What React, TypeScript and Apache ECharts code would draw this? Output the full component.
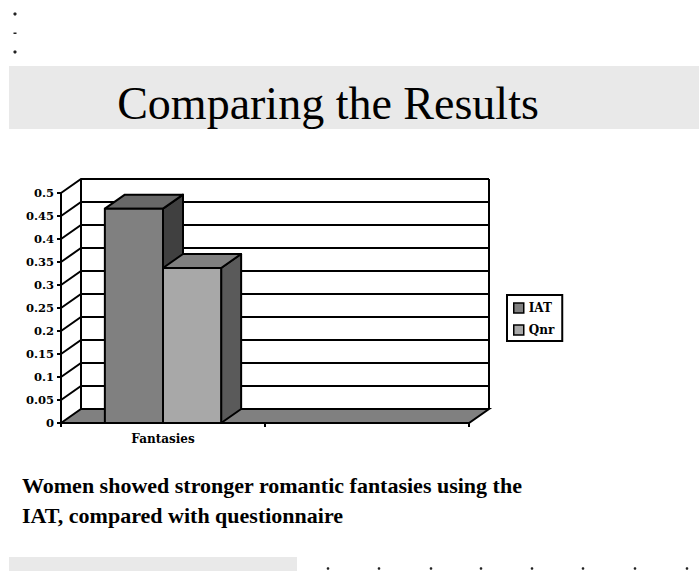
import React, { useEffect, useRef } from "react";
import * as echarts from "echarts";

const categories = ["Fantasies", ""];
const seriesNames = ["IAT", "Qnr"];
const iatValues = [0.466];
const qnrValues = [0.337];
const yTicks = [0, 0.05, 0.1, 0.15, 0.2, 0.25, 0.3, 0.35, 0.4, 0.45, 0.5];
const titleText = "Comparing the Results";
const captionLines = [
  "Women showed stronger romantic fantasies using the",
  "IAT, compared with questionnaire",
];

const DX = 20;
const DY = -14;
const LABEL_FONT = "DejaVu Serif";
const SERIF = "Liberation Serif";

const barColors = [
  { front: "#808080", top: "#686868", side: "#404040" },
  { front: "#a8a8a8", top: "#808080", side: "#5a5a5a" },
];

function makeBarRender(idx: number) {
  return (params: any, api: any) => {
    const cat = api.value(0);
    const val = api.value(1);
    const base = api.coord([cat, 0]);
    const top = api.coord([cat, val]);
    const band = api.size([1, 0])[0];
    const bw = band * 0.285;
    const left = base[0] - bw + idx * bw;
    const yb = base[1];
    const yt = top[1];
    const c = barColors[idx];
    const stroke = { stroke: "#000", lineWidth: 2, lineJoin: "round" };
    return {
      type: "group",
      children: [
        {
          type: "polygon",
          shape: {
            points: [
              [left + bw, yt],
              [left + bw + DX, yt + DY],
              [left + bw + DX, yb + DY],
              [left + bw, yb],
            ],
          },
          style: { fill: c.side, ...stroke },
        },
        {
          type: "polygon",
          shape: {
            points: [
              [left, yt],
              [left + DX, yt + DY],
              [left + bw + DX, yt + DY],
              [left + bw, yt],
            ],
          },
          style: { fill: c.top, ...stroke },
        },
        {
          type: "rect",
          shape: { x: left, y: yt, width: bw, height: yb - yt },
          style: { fill: c.front, ...stroke },
        },
      ],
    };
  };
}

function wallsRender(params: any, api: any) {
  const cs = params.coordSys;
  const x0 = cs.x;
  const w = cs.width;
  const v = api.value(1);
  const y = api.coord([0, v])[1];
  const yBase = api.coord([0, 0])[1];
  const maxV = yTicks[yTicks.length - 1];
  const children: any[] = [];
  const ls = { stroke: "#000", lineWidth: 2, fill: null };
  if (v === 0) {
    children.push({
      type: "polygon",
      shape: {
        points: [
          [x0, y],
          [x0 + DX, y + DY],
          [x0 + w + DX, y + DY],
          [x0 + w, y],
        ],
      },
      style: { fill: "#808080", stroke: "#000", lineWidth: 2 },
    });
  } else {
    children.push({
      type: "polyline",
      shape: {
        points: [
          [x0, y],
          [x0 + DX, y + DY],
          [x0 + w + DX, y + DY],
        ],
      },
      style: ls,
    });
  }
  if (v === maxV) {
    children.push({
      type: "line",
      shape: { x1: x0 + DX, y1: y + DY, x2: x0 + DX, y2: yBase + DY },
      style: ls,
    });
    children.push({
      type: "line",
      shape: { x1: x0 + w + DX, y1: y + DY, x2: x0 + w + DX, y2: yBase + DY },
      style: ls,
    });
  }
  return { type: "group", children };
}

export default function App() {
  const ref = useRef<HTMLDivElement>(null);
  useEffect(() => {
    if (!ref.current) return;
    const chart = echarts.init(ref.current, null, { renderer: "svg" });
    const dotXs = [328, 379, 431, 481, 532, 583, 635, 687];
    const graphics: any[] = [
      { type: "rect", shape: { x: 9, y: 66, width: 690, height: 63 }, style: { fill: "#e9e9e9" }, z: 0 },
      {
        type: "text",
        style: {
          text: titleText,
          x: 328,
          y: 103,
          fontFamily: SERIF,
          fontSize: 46,
          fontWeight: "normal",
          fill: "#000",
          textAlign: "center",
          textVerticalAlign: "middle",
        },
      },
      {
        type: "text",
        style: {
          text: captionLines.join("\n"),
          x: 22,
          y: 470,
          fontFamily: SERIF,
          fontSize: 22,
          fontWeight: "bold",
          lineHeight: 30,
          fill: "#000",
          textAlign: "left",
          textVerticalAlign: "top",
        },
      },
      { type: "rect", shape: { x: 9, y: 557, width: 288, height: 14 }, style: { fill: "#e9e9e9" } },
      { type: "circle", shape: { cx: 15, cy: 14, r: 1.6 }, style: { fill: "#222" } },
      { type: "rect", shape: { x: 13.5, y: 32.5, width: 3, height: 1.5 }, style: { fill: "#222" } },
      { type: "circle", shape: { cx: 15, cy: 52, r: 1.6 }, style: { fill: "#222" } },
      ...dotXs.map((x) => ({
        type: "circle",
        shape: { cx: x, cy: 568.5, r: 1.3 },
        style: { fill: "#222" },
      })),
    ];
    chart.setOption({
      animation: false,
      graphic: graphics,
      grid: { left: 61, top: 193, width: 408, height: 230, containLabel: false },
      legend: {
        data: seriesNames.map((n) => ({ name: n, icon: "rect" })),
        orient: "vertical",
        left: 507,
        top: 295,
        padding: [7, 8, 5, 6],
        itemWidth: 10,
        itemHeight: 10,
        itemGap: 10,
        borderColor: "#000",
        borderWidth: 2,
        borderRadius: 0,
        itemStyle: { borderColor: "#000", borderWidth: 1.5 },
        textStyle: { fontFamily: LABEL_FONT, fontWeight: "bold", fontSize: 12, color: "#000" },
        selectedMode: false,
      },
      xAxis: {
        type: "category",
        data: categories,
        boundaryGap: true,
        axisLine: { show: true, lineStyle: { color: "#000", width: 2 } },
        axisTick: { show: true, length: 4, lineStyle: { color: "#000", width: 2 } },
        axisLabel: {
          color: "#000",
          fontFamily: LABEL_FONT,
          fontWeight: "bold",
          fontSize: 12,
          margin: 10,
        },
        splitLine: { show: false },
      },
      yAxis: {
        type: "value",
        min: 0,
        max: 0.5,
        interval: 0.05,
        axisLine: { show: true, lineStyle: { color: "#000", width: 2 } },
        axisTick: { show: true, length: 4, lineStyle: { color: "#000", width: 2 } },
        axisLabel: {
          color: "#000",
          fontFamily: LABEL_FONT,
          fontWeight: "bold",
          fontSize: 11.5,
          margin: 7,
          formatter: (v: number) => String(+v.toFixed(2)),
        },
        splitLine: { show: false },
      },
      series: [
        {
          type: "custom",
          name: "walls",
          renderItem: wallsRender,
          data: yTicks.map((t) => [0, t]),
          encode: { x: 0, y: 1 },
          z: 1,
          silent: true,
        },
        {
          type: "custom",
          name: seriesNames[0],
          renderItem: makeBarRender(0),
          data: iatValues.map((v, i) => [i, v]),
          encode: { x: 0, y: 1 },
          itemStyle: { color: barColors[0].front },
          z: 2,
        },
        {
          type: "custom",
          name: seriesNames[1],
          renderItem: makeBarRender(1),
          data: qnrValues.map((v, i) => [i, v]),
          encode: { x: 0, y: 1 },
          itemStyle: { color: barColors[1].front },
          z: 3,
        },
      ],
    });
    return () => chart.dispose();
  }, []);
  return (
    <div
      ref={ref}
      style={{ position: "fixed", left: 0, top: 0, width: 699, height: 571, background: "#fff" }}
    />
  );
}
